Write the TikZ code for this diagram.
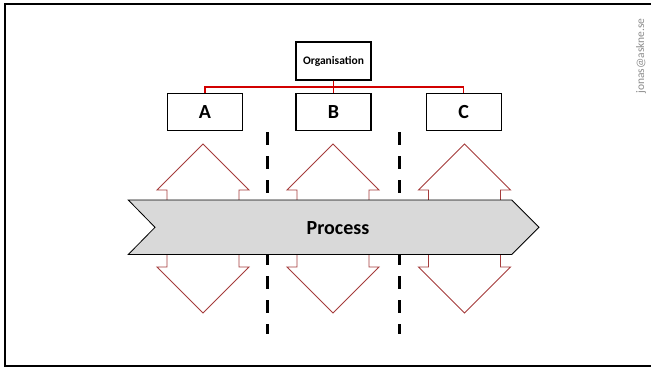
\documentclass[tikz,border=0pt]{standalone}
\usepackage{fontspec}
\setmainfont{Carlito}
\definecolor{arrowred}{RGB}{165,60,60}
\definecolor{linkred}{RGB}{210,0,0}
\definecolor{procgray}{RGB}{217,217,217}
\definecolor{markgray}{RGB}{140,140,140}
\begin{document}
\begin{tikzpicture}[x=1pt,y=-1pt,
  unitbox/.style={draw=black,line width=1.2pt,fill=white,minimum width=75pt,minimum height=37pt,inner sep=0pt,font=\fontsize{20}{22}\selectfont\bfseries},
  orgbox/.style={draw=black,line width=1.2pt,fill=white,minimum width=75pt,minimum height=38pt,inner sep=0pt,font=\fontsize{11.5}{13}\selectfont\bfseries},
  orglink/.style={draw=linkred,line width=1.5pt},
  dbl/.style={draw=arrowred,line width=0.9pt,fill=white,line join=miter},
  divider/.style={draw=black,line width=3pt,dash pattern=on 13pt off 11pt},
  proc/.style={draw=black,line width=0.8pt,fill=procgray,line join=miter}]
\useasboundingbox (0,0) rectangle (651,367);
% frame
\draw[line width=2pt] (651,4) -- (5,4) -- (5,365.5) -- (651,365.5);
% watermark
\node[rotate=90,text=markgray,font=\fontsize{11.5}{13}\selectfont,inner sep=0pt] (mark) at (641,56) {jonas@askne.se};
% organisation
\node[orgbox] (org) at (333.5,61) {Organisation};
\node[unitbox] (A) at (205,111.7) {A};
\node[unitbox] (B) at (333.5,111.7) {B};
\node[unitbox] (C) at (463.7,111.7) {C};
\draw[orglink] (org.south) -- ++(0,6.5) -| (A.north);
\draw[orglink] (org.south) -- ++(0,6.5) -| (C.north);
\draw[orglink] (org.south) -- (B.north);
% dividers
\coordinate (d1t) at (267.5,132.3);
\coordinate (d1b) at (267.5,334);
\coordinate (d2t) at (399,132.3);
\coordinate (d2b) at (399,334);
\draw[divider] (d1t) -- (d1b);
\draw[divider] (d2t) -- (d2b);
% double arrows
\foreach \cx in {203,333,464.5}{
  \draw[dbl] (\cx,144) -- (\cx+46,190) -- (\cx+36,190) -- (\cx+36,267) -- (\cx+46,267)
    -- (\cx,313) -- (\cx-46,267) -- (\cx-36,267) -- (\cx-36,190) -- (\cx-46,190) -- cycle;
}
% process
\draw[proc] (128.3,200) -- (511.7,200) -- (539,227.3) -- (511.7,254.5) -- (128.3,254.5) -- (155,227.3) -- cycle;
\node[font=\fontsize{20}{22}\selectfont\bfseries,inner sep=0pt] (process) at (338,228.5) {Process};
\end{tikzpicture}
\end{document}
